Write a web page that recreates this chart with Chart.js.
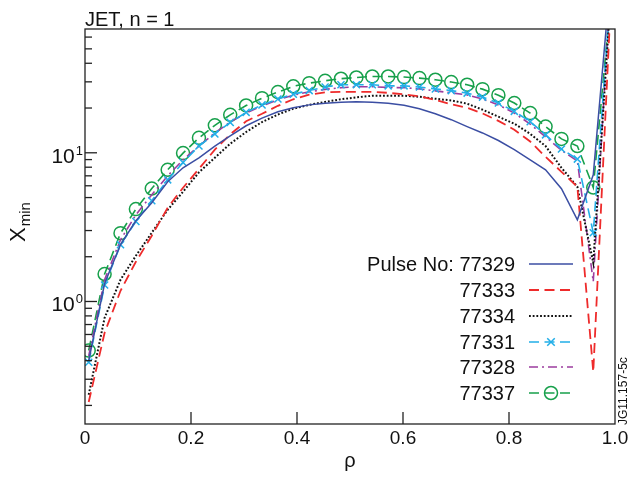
<!DOCTYPE html>
<html>
<head>
<meta charset="utf-8">
<script src="https://cdn.jsdelivr.net/npm/chart.js@4"></script>
<style>
html, body { margin: 0; padding: 0; background: #fff; }
</style>
</head>
<body>
<canvas id="myChart" width="629" height="478"></canvas>
<script>
// rho grid (same sampling for every pulse)
const rho = [0.007, 0.037, 0.067, 0.096, 0.126, 0.156, 0.185, 0.215, 0.245, 0.274, 0.304, 0.334,
             0.364, 0.393, 0.423, 0.453, 0.483, 0.512, 0.542, 0.572, 0.602, 0.631, 0.661, 0.691,
             0.721, 0.750, 0.780, 0.810, 0.840, 0.869, 0.899, 0.929, 0.959, 0.990];

const pulses = ['77329', '77333', '77334', '77331', '77328', '77337'];

const x77329 = [0.40, 1.32, 2.41, 3.49, 4.61, 6.38, 7.93, 9.25, 11.1, 13.0, 15.2, 17.1,
                18.9, 20.1, 21.0, 21.5, 21.9, 22.0, 21.9, 21.5, 20.9, 19.8, 18.3, 16.7,
                15.0, 13.6, 12.1, 10.5, 8.97, 7.69, 5.73, 3.54, 7.11, 128];
const x77333 = [0.211, 0.616, 1.18, 1.85, 2.77, 4.27, 5.82, 7.80, 10.5, 13.3, 16.3, 18.3,
                20.7, 22.9, 24.6, 25.5, 25.7, 25.7, 25.7, 25.3, 24.7, 24.0, 22.7, 21.2,
                20.1, 18.4, 16.4, 14.3, 11.9, 9.40, 7.45, 5.91, 0.336, 72];
const x77334 = [0.236, 0.777, 1.40, 2.03, 2.90, 4.14, 5.47, 7.39, 9.26, 11.5, 13.8, 16.1,
                18.1, 19.8, 21.0, 22.0, 22.9, 23.6, 24.2, 24.2, 24.2, 23.8, 23.1, 22.5,
                21.4, 19.5, 17.5, 15.7, 13.4, 11.1, 7.93, 5.91, 1.82, 89];
const x77331 = [0.39, 1.29, 2.41, 3.45, 4.76, 6.58, 8.61, 11.1, 13.4, 16.0, 18.7, 21.0,
                23.0, 24.8, 26.2, 27.7, 28.7, 28.7, 28.7, 28.2, 28.2, 27.7, 26.9, 26.2,
                25.2, 23.7, 21.6, 19.0, 16.2, 13.2, 10.6, 9.07, 2.90, 99];
const x77328 = [0.43, 1.40, 2.60, 3.83, 5.22, 7.00, 8.97, 11.1, 13.6, 16.1, 18.5, 20.7,
                22.7, 24.4, 25.7, 26.7, 27.4, 27.8, 27.8, 27.5, 27.4, 26.9, 26.1, 25.3,
                24.5, 23.0, 21.0, 18.5, 15.6, 12.8, 10.4, 8.8, 1.36, 108];
const x77337 = [0.468, 1.53, 2.88, 4.18, 5.75, 7.69, 9.95, 12.6, 15.3, 18.0, 20.8, 23.3,
                25.6, 28.0, 29.4, 30.5, 31.5, 32.1, 32.6, 32.6, 32.3, 31.8, 31.0, 29.9,
                28.7, 26.8, 24.4, 21.6, 18.5, 15.0, 12.4, 11.1, 5.84, 90];

const xTicks = [0, 0.2, 0.4, 0.6, 0.8, 1.0];
const xTickLabels = ['0', '0.2', '0.4', '0.6', '0.8', '1.0'];
const yMajor = [1, 10];
const yMajorExp = ['0', '1'];

const FONT = '"Liberation Sans", Arial, Helvetica, sans-serif';

const styles = [
  { color: '#3b4ea3', dash: [], width: 1.5, point: false },
  { color: '#ee2b2b', dash: [10, 5.5], width: 1.8, point: false },
  { color: '#111111', dash: [1.8, 1.9], width: 2, point: false },
  { color: '#22aee8', dash: [10, 5.5], width: 1.6, point: 'crossRot', r: 5 },
  { color: '#9c3d9f', dash: [9, 4, 2, 4], width: 1.6, point: false },
  { color: '#17a04b', dash: [10, 5.5], width: 1.6, point: 'circle', r: 6.5 }
];

const series = [x77329, x77333, x77334, x77331, x77328, x77337];

const datasets = series.map((vals, i) => {
  const s = styles[i];
  return {
    label: pulses[i],
    data: vals.map((v, j) => ({ x: rho[j], y: v })),
    borderColor: s.color,
    borderWidth: s.width,
    borderDash: s.dash,
    tension: 0,
    clip: 0,
    pointStyle: s.point || 'circle',
    pointRadius: s.point ? (j => j.dataIndex === rho.length - 1 ? 0 : s.r) : 0,
    pointBorderColor: s.color,
    pointBackgroundColor: 'rgba(0,0,0,0)',
    pointBorderWidth: 1.5,
    pointHoverRadius: 0
  };
});

function drawMarker(ctx, style, x, y, r, color) {
  ctx.save();
  ctx.setLineDash([]);
  ctx.strokeStyle = color;
  ctx.lineWidth = 1.5;
  ctx.beginPath();
  if (style === 'circle') {
    ctx.arc(x, y, r, 0, Math.PI * 2);
  } else {
    const d = r * 0.75;
    ctx.moveTo(x - d, y - d); ctx.lineTo(x + d, y + d);
    ctx.moveTo(x + d, y - d); ctx.lineTo(x - d, y + d);
  }
  ctx.stroke();
  ctx.restore();
}

const decor = {
  id: 'decor',
  afterDraw(chart) {
    const ctx = chart.ctx;
    const a = chart.chartArea;
    const xs = chart.scales.x, ys = chart.scales.y;
    ctx.save();

    // frame
    ctx.strokeStyle = '#222';
    ctx.lineWidth = 1.3;
    ctx.setLineDash([]);
    ctx.strokeRect(a.left, a.top, a.right - a.left, a.bottom - a.top);

    // x ticks (inward)
    ctx.fillStyle = '#111';
    ctx.font = '19px ' + FONT;
    ctx.textAlign = 'center';
    ctx.textBaseline = 'middle';
    xTicks.forEach((t, i) => {
      const px = xs.getPixelForValue(t);
      if (t > 0 && t < 1) {
        ctx.beginPath();
        ctx.moveTo(px, a.bottom);
        ctx.lineTo(px, a.bottom - 12);
        ctx.stroke();
      }
      ctx.fillText(xTickLabels[i], px, a.bottom + 15);
    });

    // y minor ticks
    for (let e = -1; e <= 1; e++) {
      for (let m = 2; m <= 9; m++) {
        const v = m * Math.pow(10, e);
        if (v < ys.min || v > ys.max) continue;
        const py = ys.getPixelForValue(v);
        ctx.beginPath();
        ctx.moveTo(a.left, py);
        ctx.lineTo(a.left + 7, py);
        ctx.stroke();
      }
    }
    // y major ticks + labels
    yMajor.forEach((v, i) => {
      const py = ys.getPixelForValue(v);
      ctx.beginPath();
      ctx.moveTo(a.left, py);
      ctx.lineTo(a.left + 12, py);
      ctx.stroke();
      ctx.textAlign = 'right';
      ctx.textBaseline = 'alphabetic';
      ctx.font = '13px ' + FONT;
      const supW = ctx.measureText(yMajorExp[i]).width;
      ctx.fillText(yMajorExp[i], a.left - 2, py + 2);
      ctx.font = '21px ' + FONT;
      ctx.fillText('10', a.left - 3 - supW, py + 10);
    });

    // title
    ctx.textAlign = 'left';
    ctx.textBaseline = 'alphabetic';
    ctx.font = '20px ' + FONT;
    ctx.fillText('JET, n = 1', a.left, 26);

    // x axis title
    ctx.textAlign = 'center';
    ctx.fillText('\u03C1', (a.left + a.right) / 2, 467);

    // y axis title
    ctx.save();
    ctx.translate(25, 242);
    ctx.rotate(-Math.PI / 2);
    ctx.textAlign = 'left';
    ctx.font = '22px ' + FONT;
    ctx.fillText('X', 0, 0);
    const xw = ctx.measureText('X').width;
    ctx.font = '15px ' + FONT;
    ctx.fillText('min', xw + 1, 5);
    ctx.restore();

    // figure id
    ctx.save();
    ctx.translate(627, 425);
    ctx.rotate(-Math.PI / 2);
    ctx.textAlign = 'left';
    ctx.font = '12px ' + FONT;
    ctx.fillText('JG11.157-5c', 0, 0);
    ctx.restore();

    // legend
    const rowY = [264, 290, 316, 342, 367, 393];
    ctx.font = '20px ' + FONT;
    ctx.textAlign = 'right';
    pulses.forEach((p, i) => {
      const s = styles[i];
      const y = rowY[i];
      ctx.fillStyle = '#111';
      ctx.fillText((i === 0 ? 'Pulse No: ' : '') + p, 515, y + 7);
      ctx.save();
      ctx.strokeStyle = s.color;
      ctx.lineWidth = s.width;
      ctx.setLineDash(s.dash);
      ctx.beginPath();
      ctx.moveTo(529, y);
      ctx.lineTo(573, y);
      ctx.stroke();
      ctx.restore();
      if (s.point) drawMarker(ctx, s.point, 551, y, s.r, s.color);
    });

    ctx.restore();
  }
};

const chart = new Chart(document.getElementById('myChart'), {
  type: 'line',
  data: { datasets: datasets },
  options: {
    responsive: false,
    animation: false,
    devicePixelRatio: 1,
    layout: { padding: { left: 85, top: 29, right: 14, bottom: 54 } },
    plugins: { legend: { display: false }, tooltip: { enabled: false } },
    scales: {
      x: { type: 'linear', min: 0, max: 1, display: false },
      y: { type: 'logarithmic', min: 0.15, max: 68, display: false }
    }
  },
  plugins: [decor]
});
</script>
</body>
</html>
